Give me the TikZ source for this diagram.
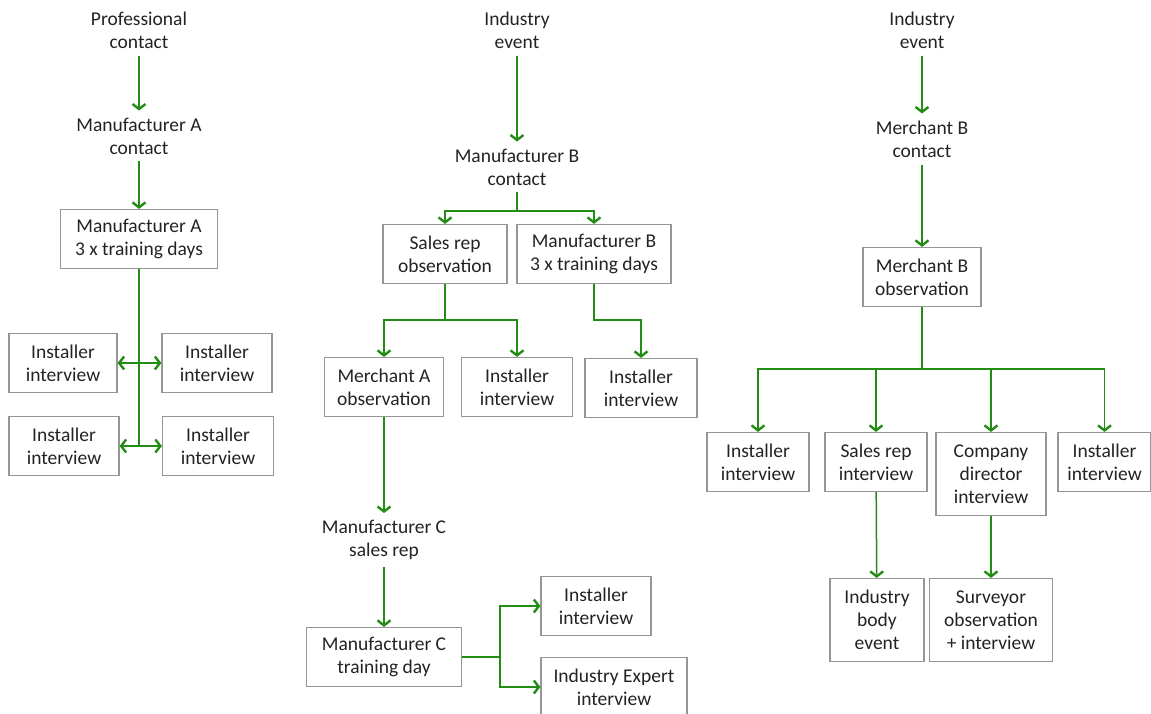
\documentclass[tikz,border=0pt]{standalone}
\usepackage{fontspec}
\setmainfont{Carlito}
\usetikzlibrary{positioning, arrows.meta}

\definecolor{linkgreen}{RGB}{34,140,20}
\definecolor{boxgray}{RGB}{150,150,150}
\definecolor{textgray}{RGB}{35,35,35}

\tikzset{
    freeText/.style={align=center, inner sep=7pt, text=textgray,
        font=\fontsize{19.5}{23}\selectfont},
    box/.style={freeText, draw=boxgray, line width=1.2pt, inner xsep=4pt,
        minimum height=59pt},
    link/.style={draw=linkgreen, line width=1.5pt},
    arr/.style={link, -{Straight Barb[length=5pt, width=13pt, line width=2.4pt]}}
}

\begin{document}
\begin{tikzpicture}[x=1pt, y=-1pt]

        \useasboundingbox (0,0) rectangle (1151,713);

        % left column
        \node[freeText] (profContact) at (139,30) {Professional\\contact};
        \node[freeText] (mfrAContact) at (139,136) {Manufacturer A\\contact};
        \node[box, minimum width=157pt] (mfrATrain) at (139,239) {Manufacturer A\\3 x training days};

        \node[box, minimum width=108pt] (instA1) at (63,363) {Installer\\interview};
        \node[box, minimum width=110pt] (instA2) at (217,363) {Installer\\interview};
        \node[box, minimum width=110pt] (instA3) at (64,446) {Installer\\interview};
        \node[box, minimum width=111pt] (instA4) at (218,446) {Installer\\interview};

        % middle column
        \node[freeText] (eventB) at (517,30) {Industry\\event};
        \node[freeText] (mfrBContact) at (517,167) {Manufacturer B\\contact};
        \node[box, minimum width=124pt] (salesRepObs) at (445,254) {Sales rep\\observation};
        \node[box, minimum width=154pt] (mfrBTrain) at (594,254) {Manufacturer B\\3 x training days};

        \node[box, minimum width=119pt] (merchAObs) at (384,387) {Merchant A\\observation};
        \node[box, minimum width=111pt] (instB1) at (517,387) {Installer\\interview};
        \node[box, minimum width=112pt] (instB2) at (641,388) {Installer\\interview};

        \node[freeText] (mfrCRep) at (384,540) {Manufacturer C\\sales rep};
        \node[box, minimum width=155pt] (mfrCTrain) at (384,657) {Manufacturer C\\training day};
        \node[box, minimum width=110pt] (instB3) at (596,606) {Installer\\interview};
        \node[box, minimum width=146pt] (expertInt) at (614,687) {Industry Expert\\interview};

        % right column
        \node[freeText] (eventC) at (922,30) {Industry\\event};
        \node[freeText] (merchBContact) at (922,139) {Merchant B\\contact};
        \node[box, minimum width=118pt] (merchBObs) at (922,277) {Merchant B\\observation};

        \node[box, minimum width=102pt] (instC1) at (758,462) {Installer\\interview};
        \node[box, minimum width=102pt] (salesRepInt) at (876,462) {Sales rep\\interview};
        \node[box, minimum width=110pt, minimum height=83pt] (directorInt) at (991,474) {Company\\director\\interview};
        \node[box, minimum width=93pt] (instC2) at (1104.5,462) {Installer\\interview};

        \node[box, minimum width=94pt, minimum height=83pt] (bodyEvent) at (877,620) {Industry\\body\\event};
        \node[box, minimum width=123pt, minimum height=83pt] (surveyor) at (991,620) {Surveyor\\observation\\+ interview};

        \coordinate (splitA) at (139,446);
        \coordinate (splitB) at (517,211);
        \coordinate (splitS) at (445,320);
        \coordinate (splitC) at (500,657);
        \coordinate (splitM) at (922,369);

        % connectors
        \draw[arr] (profContact) -- (mfrAContact);
        \draw[arr] (mfrAContact) -- (mfrATrain);
        \draw[link] (mfrATrain) -- (splitA);
        \draw[arr] (instA1.east -| splitA) -- (instA1);
        \draw[arr] (instA2.west -| splitA) -- (instA2);
        \draw[arr] (splitA) -- (instA3);
        \draw[arr] (splitA) -- (instA4);

        \draw[arr] (eventB) -- (mfrBContact);
        \draw[link] (mfrBContact) -- (splitB);
        \draw[arr] (splitB) -| (salesRepObs);
        \draw[arr] (splitB) -| (mfrBTrain);
        \draw[link] (salesRepObs) -- (splitS);
        \draw[arr] (splitS) -| (merchAObs);
        \draw[arr] (splitS) -| (instB1);
        \draw[arr] (mfrBTrain.south) -- (mfrBTrain.south |- splitS) -| (instB2);
        \draw[arr] (merchAObs) -- (mfrCRep);
        \draw[arr] (mfrCRep) -- (mfrCTrain);
        \draw[link] (mfrCTrain) -- (splitC);
        \draw[arr] (splitC) |- (instB3);
        \draw[arr] (splitC) |- (expertInt);

        \draw[arr] (eventC) -- (merchBContact);
        \draw[arr] (merchBContact) -- (merchBObs);
        \draw[link] (merchBObs) -- (splitM);
        \draw[arr] (splitM) -| (instC1);
        \draw[arr] (splitM) -| (salesRepInt);
        \draw[arr] (splitM) -| (directorInt);
        \draw[arr] (splitM) -| (instC2);
        \draw[arr] (salesRepInt) -- (bodyEvent);
        \draw[arr] (directorInt) -- (surveyor);

    \end{tikzpicture}
\end{document}
